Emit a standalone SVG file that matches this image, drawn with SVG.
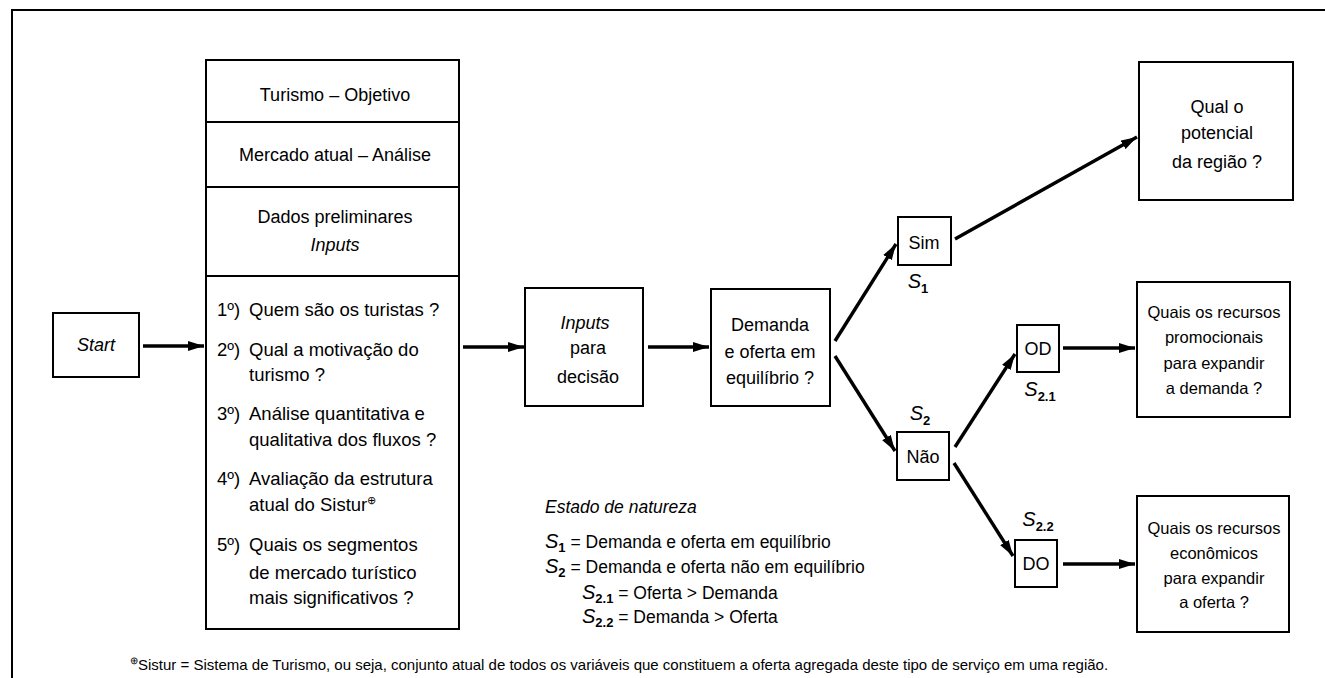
<svg xmlns="http://www.w3.org/2000/svg" width="1325" height="678" viewBox="0 0 1325 678">
  <defs>
    <marker id="arrow" viewBox="0 0 16 10" refX="16" refY="5" markerWidth="16" markerHeight="10" markerUnits="userSpaceOnUse" orient="auto">
      <path d="M0,0 L16,5 L0,10 Z" fill="#000"/>
    </marker>
    <style>
      text { font-family: "Liberation Sans", Arial, sans-serif; fill: #000; }
      .box { fill: #fff; stroke: #000; stroke-width: 2; }
      .frame { fill: none; stroke: #000; stroke-width: 2; }
      .t { font-size: 18px; }
      .li { font-size: 18.5px; }
      .r { font-size: 16.5px; }
      .lg { font-size: 17.5px; }
      .c { text-anchor: middle; }
      .it { font-style: italic; }
      .lab { font-size: 20px; font-style: italic; }
      .sub { font-size: 13px; font-style: normal; font-weight: bold; }
      .foot { font-size: 15px; }
      .conn { stroke: #000; stroke-width: 3.4; fill: none; marker-end: url(#arrow); }
    </style>
  </defs>

  <rect width="1325" height="678" fill="#fff"/>

  <!-- page frame -->
  <path class="frame" d="M12,678 L12,10 L1325,10"/>

  <!-- connectors -->
  <g id="connectors">
    <line class="conn" x1="143" y1="346" x2="204" y2="346"/>
    <line class="conn" x1="463" y1="347" x2="524" y2="347"/>
    <line class="conn" x1="648" y1="347" x2="709" y2="347"/>
    <line class="conn" x1="835" y1="341" x2="896" y2="244"/>
    <line class="conn" x1="835" y1="356" x2="895" y2="451"/>
    <line class="conn" x1="955" y1="239" x2="1137" y2="137"/>
    <line class="conn" x1="955" y1="447" x2="1015" y2="354"/>
    <line class="conn" x1="954" y1="463" x2="1013" y2="556"/>
    <line class="conn" x1="1063" y1="348" x2="1135" y2="348"/>
    <line class="conn" x1="1063" y1="564" x2="1135" y2="564"/>
  </g>

  <g id="start">
    <rect class="box" x="53" y="313" width="86" height="64"/>
    <text class="t it c" x="96" y="351">Start</text>
  </g>

  <g id="analise">
    <rect class="box" x="206" y="60" width="253" height="569"/>
    <line x1="206" y1="122" x2="459" y2="122" stroke="#000" stroke-width="2"/>
    <line x1="206" y1="187" x2="459" y2="187" stroke="#000" stroke-width="2"/>
    <line x1="206" y1="276" x2="459" y2="276" stroke="#000" stroke-width="2"/>
    <text class="t c" x="335" y="101">Turismo – Objetivo</text>
    <text class="t c" x="335" y="161">Mercado atual – Análise</text>
    <text class="t c" x="335" y="223">Dados preliminares</text>
    <text class="t c it" x="335" y="251">Inputs</text>
    <text class="li" x="217" y="316">1º)</text>
    <text class="li" x="249" y="316">Quem são os turistas ?</text>
    <text class="li" x="217" y="356">2º)</text>
    <text class="li" x="249" y="356">Qual a motivação do</text>
    <text class="li" x="249" y="381">turismo ?</text>
    <text class="li" x="217" y="420">3º)</text>
    <text class="li" x="249" y="420">Análise quantitativa e</text>
    <text class="li" x="249" y="446">qualitativa dos fluxos ?</text>
    <text class="li" x="217" y="485">4º)</text>
    <text class="li" x="249" y="485">Avaliação da estrutura</text>
    <text class="li" x="249" y="511">atual do Sistur<tspan font-size="11" dy="-7">⊕</tspan></text>
    <text class="li" x="217" y="551">5º)</text>
    <text class="li" x="249" y="551">Quais os segmentos</text>
    <text class="li" x="249" y="579">de mercado turístico</text>
    <text class="li" x="249" y="604">mais significativos ?</text>
  </g>

  <g id="inputs-decisao">
    <rect class="box" x="525" y="288" width="118" height="118"/>
    <text class="t c it" x="585" y="329">Inputs</text>
    <text class="t c" x="588" y="354">para</text>
    <text class="t c" x="588" y="383">decisão</text>
  </g>

  <g id="equilibrio">
    <rect class="box" x="711" y="289" width="119" height="117"/>
    <text class="t c" x="770" y="331">Demanda</text>
    <text class="t c" x="770" y="358">e oferta em</text>
    <text class="t c" x="770" y="384">equilíbrio ?</text>
  </g>

  <g id="sim">
    <rect class="box" x="898" y="217" width="53" height="48"/>
    <text class="t c" x="924" y="249">Sim</text>
    <text class="lab c" x="918" y="288">S<tspan class="sub" dy="5">1</tspan></text>
  </g>

  <g id="nao">
    <rect class="box" x="897" y="432" width="52" height="48"/>
    <text class="t c" x="923" y="463">Não</text>
    <text class="lab c" x="920" y="420">S<tspan class="sub" dy="5">2</tspan></text>
  </g>

  <g id="od">
    <rect class="box" x="1017" y="325" width="42" height="47"/>
    <text class="t c" x="1038" y="355">OD</text>
    <text class="lab c" x="1040" y="396">S<tspan class="sub" dy="5">2.1</tspan></text>
  </g>

  <g id="do">
    <rect class="box" x="1015" y="540" width="42" height="47"/>
    <text class="t c" x="1036" y="570">DO</text>
    <text class="lab c" x="1038" y="526">S<tspan class="sub" dy="5">2.2</tspan></text>
  </g>

  <g id="potencial">
    <rect class="box" x="1139" y="62" width="154" height="138"/>
    <text class="t c" x="1217" y="113">Qual  o</text>
    <text class="t c" x="1217" y="139">potencial</text>
    <text class="t c" x="1217" y="168">da região ?</text>
  </g>

  <g id="promocionais">
    <rect class="box" x="1137" y="282" width="153" height="135"/>
    <text class="r c" x="1214" y="318">Quais os recursos</text>
    <text class="r c" x="1214" y="343">promocionais</text>
    <text class="r c" x="1214" y="369">para expandir</text>
    <text class="r c" x="1214" y="394">a demanda ?</text>
  </g>

  <g id="economicos">
    <rect class="box" x="1137" y="496" width="152" height="136"/>
    <text class="r c" x="1214" y="534">Quais os recursos</text>
    <text class="r c" x="1214" y="559">econômicos</text>
    <text class="r c" x="1214" y="584">para expandir</text>
    <text class="r c" x="1214" y="608">a oferta ?</text>
  </g>

  <g id="legenda">
    <text class="lg it" x="545" y="513">Estado de natureza</text>
    <text class="lg" x="545" y="548"><tspan class="lab">S</tspan><tspan class="sub" dy="4">1</tspan><tspan dy="-4"> = Demanda e oferta em equilíbrio</tspan></text>
    <text class="lg" x="545" y="573"><tspan class="lab">S</tspan><tspan class="sub" dy="4">2</tspan><tspan dy="-4"> = Demanda e oferta não em equilíbrio</tspan></text>
    <text class="lg" x="582" y="599"><tspan class="lab">S</tspan><tspan class="sub" dy="4">2.1</tspan><tspan dy="-4"> = Oferta &gt; Demanda</tspan></text>
    <text class="lg" x="582" y="623"><tspan class="lab">S</tspan><tspan class="sub" dy="4">2.2</tspan><tspan dy="-4"> = Demanda &gt; Oferta</tspan></text>
  </g>

  <g id="nota">
    <text class="foot" x="130" y="670"><tspan font-size="10" dy="-6">⊕</tspan><tspan dy="6">Sistur = Sistema de Turismo, ou seja, conjunto atual de todos os variáveis que constituem a oferta agregada deste tipo de serviço em uma região.</tspan></text>
  </g>
</svg>
